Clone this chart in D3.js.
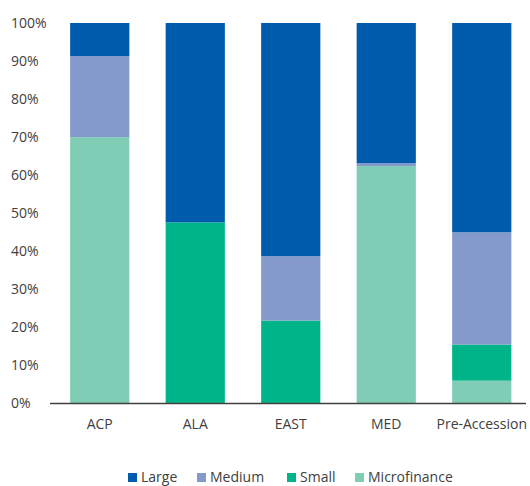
<!DOCTYPE html>
<html><head><meta charset="utf-8">
<script src="https://cdn.jsdelivr.net/npm/d3@7"></script>
<style>body{margin:0;background:#fff}svg{display:block}text{font-family:"Open Sans",sans-serif;fill:#404040}</style>
</head><body><svg id="c" width="530" height="486"></svg>
<script>
const categories = ["ACP","ALA","EAST","MED","Pre-Accession"];
const seriesNames = ["Microfinance","Small","Medium","Large"];
const microfinance = [70.0, 0, 0, 62.4, 6.0];
const small = [0, 47.6, 21.8, 0, 9.5];
const medium = [21.3, 0, 16.9, 0.8, 29.5];
const large = [8.7, 52.4, 61.3, 36.8, 55.0];
const colors = {Large:"#005BAC", Medium:"#8499CC", Small:"#00B48A", Microfinance:"#80CDB6"};
const legendOrder = ["Large","Medium","Small","Microfinance"];
const yTicks = [0,10,20,30,40,50,60,70,80,90,100];

const svg = d3.select("#c");
const x = d3.scaleBand().domain(categories).range([52, 529.5]).paddingInner(0.38).paddingOuter(0.19);
const y = d3.scaleLinear().domain([0,100]).range([403.5, 23]);

const rows = categories.map((c,i)=>({cat:c, Microfinance:microfinance[i], Small:small[i], Medium:medium[i], Large:large[i]}));
const stack = d3.stack().keys(seriesNames)(rows);

svg.append("g").selectAll("g").data(stack).join("g")
  .attr("fill", d=>colors[d.key])
  .selectAll("rect").data(d=>d).join("rect")
  .attr("x", d=>x(d.data.cat)).attr("width", x.bandwidth())
  .attr("y", d=>y(d[1])).attr("height", d=>y(d[0])-y(d[1]));

// axis line
svg.append("line").attr("x1",50).attr("x2",526).attr("y1",y(0)).attr("y2",y(0))
  .attr("stroke","#404040").attr("stroke-width",1.5);

// y labels
svg.append("g").selectAll("text").data(yTicks).join("text")
  .attr("x",11).attr("y",d=>y(d)).attr("dy","0.35em")
  .attr("font-size",14).text(d=>d+"%");

// x labels
svg.append("g").selectAll("text").data(categories).join("text")
  .attr("x",d=>x(d)+x.bandwidth()/2).attr("y",428.5)
  .attr("text-anchor","middle").attr("font-size",14).text(d=>d);

// legend
const legX = [128,197,287,355];
const lg = svg.append("g").selectAll("g").data(legendOrder).join("g")
  .attr("transform",(d,i)=>`translate(${legX[i]},0)`);
lg.append("rect").attr("x",0).attr("y",473).attr("width",9).attr("height",9).attr("fill",d=>colors[d]);
lg.append("text").attr("x",13).attr("y",482).attr("font-size",14).text(d=>d);
</script></body></html>
